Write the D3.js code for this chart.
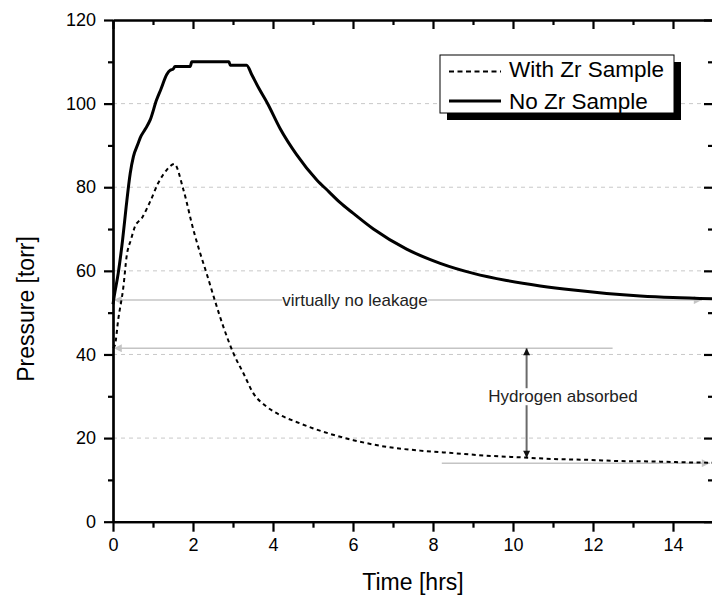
<!DOCTYPE html>
<html>
<head>
<meta charset="utf-8">
<script src="https://cdn.jsdelivr.net/npm/d3@7"></script>
<style>
  body { margin: 0; background: #fff; }
  svg { display: block; font-family: Arial, "Liberation Sans", sans-serif; }
  .axis path, .axis line { stroke: #000; stroke-width: 2.2; }
  .axis text { font-size: 18px; fill: #000; font-family: Arial, "Liberation Sans", sans-serif; }
</style>
</head>
<body>
<div id="chart"></div>
<script>
// Data
const timeNoZr = [0, 0.03, 0.13, 0.24, 0.33, 0.43, 0.51, 0.63, 0.68, 0.8, 0.93, 1.09, 1.2, 1.34, 1.43, 1.5, 1.55,
    1.93, 1.97, 2.9, 2.93, 3.34, 3.47, 3.65, 3.86, 4.18, 4.59, 5.09, 5.4, 5.68, 6.0, 6.51, 7.34, 8.18, 9.01, 9.84,
    10.68, 11.51, 12.34, 13.18, 14.0, 15.0];
const pressureNoZr = [52, 53.9, 59.4, 67.4, 75.4, 83.3, 87.3, 90.5, 91.8, 93.8, 96.1, 100.9, 103.5, 106.9, 108, 108.2, 108.9,
    108.9, 110, 110, 109.2, 109.2, 106.9, 103.6, 100.1, 94.0, 87.8, 81.8, 78.9, 76.3, 73.8, 70.0, 65.2, 61.8, 59.4, 57.7,
    56.4, 55.4, 54.6, 54, 53.6, 53.3];

const timeWithZr = [0, 0.05, 0.13, 0.26, 0.34, 0.45, 0.55, 0.72, 0.93, 1.13, 1.34, 1.5, 1.53, 1.76, 2.01, 2.18, 2.34,
    2.55, 2.76, 3.01, 3.26, 3.51, 3.84, 4.18, 4.6, 5.01, 5.5, 6.01, 6.84, 7.68, 8.51, 9.34, 10.18, 11.01, 11.84,
    12.68, 13.51, 14.34, 15];
const pressureWithZr = [41.5, 42.3, 48.3, 56.2, 63.4, 67.5, 70.6, 72.6, 76.6, 81, 84.1, 85.5, 85.6, 79.4, 69.8, 64.2, 59.4,
    52.8, 46.6, 40.3, 35.5, 30.7, 27.5, 25.5, 23.8, 22.3, 20.8, 19.5, 17.9, 17, 16.4, 15.8, 15.4, 15, 14.8,
    14.5, 14.4, 14.2, 14.1];

const xMajorTicks = [0, 2, 4, 6, 8, 10, 12, 14];
const xMinorTicks = [1, 3, 5, 7, 9, 11, 13, 15];
const yMajorTicks = [0, 20, 40, 60, 80, 100, 120];
const yMinorTicks = [10, 30, 50, 70, 90, 110];
const gridValues = [20, 40, 60, 80, 100];

const seriesNames = ["With Zr Sample", "No Zr Sample"];

// Annotation lines: pressure level, start time, end time, arrow ends
const refLevels = [53, 41.5, 14];
const refStart = [0.02, 0.02, 8.22];
const refEnd = [14.72, 12.49, 14.92];
const refArrows = ["both", "start", "end"];
const absorbedTime = 10.34;
const absorbedRange = [41.5, 15.3];
const noteTexts = ["virtually no leakage", "Hydrogen absorbed"];
const noteTimes = [6.05, 11.25];
const notePressures = [53, 30];

// Set up the svg
let width = 712, height = 597;
let margin = {left: 113, top: 20, right: -1, bottom: 75.3};

let svg = d3.select('#chart')
    .append('svg')
    .attr('width', width)
    .attr('height', height);

let x = d3.scaleLinear()
    .domain([0, 15])
    .range([margin.left, width - margin.right]);

let y = d3.scaleLinear()
    .domain([0, 120])
    .range([height - margin.bottom, margin.top]);

// Arrow markers
let defs = svg.append('defs');
defs.append('marker')
    .attr('id', 'greyArrow')
    .attr('viewBox', '0 0 10 10')
    .attr('refX', 10).attr('refY', 5)
    .attr('markerUnits', 'userSpaceOnUse')
    .attr('markerWidth', 10).attr('markerHeight', 8)
    .attr('orient', 'auto-start-reverse')
    .append('path')
    .attr('d', 'M0,0 L10,5 L0,10 Z')
    .attr('fill', '#c4c4c4');
defs.append('marker')
    .attr('id', 'darkArrow')
    .attr('viewBox', '0 0 10 10')
    .attr('refX', 10).attr('refY', 5)
    .attr('markerUnits', 'userSpaceOnUse')
    .attr('markerWidth', 9).attr('markerHeight', 7)
    .attr('orient', 'auto-start-reverse')
    .append('path')
    .attr('d', 'M0,0 L10,5 L0,10 Z')
    .attr('fill', '#111');

// Grid lines
svg.append('g')
    .selectAll('line')
    .data(gridValues)
    .join('line')
    .attr('x1', x(0))
    .attr('x2', x(15))
    .attr('y1', d => y(d))
    .attr('y2', d => y(d))
    .attr('stroke', '#c8c8c8')
    .attr('stroke-width', 1)
    .attr('stroke-dasharray', '4,4');

// Annotation reference lines
refLevels.forEach(function(level, i) {
    let line = svg.append('line')
        .attr('x1', x(refStart[i]))
        .attr('x2', x(refEnd[i]))
        .attr('y1', y(level))
        .attr('y2', y(level))
        .attr('stroke', '#c4c4c4')
        .attr('stroke-width', 1.5);
    if (refArrows[i] === 'both' || refArrows[i] === 'start') line.attr('marker-start', 'url(#greyArrow)');
    if (refArrows[i] === 'both' || refArrows[i] === 'end') line.attr('marker-end', 'url(#greyArrow)');
});

// Vertical arrow for absorbed hydrogen
svg.append('line')
    .attr('x1', x(absorbedTime))
    .attr('x2', x(absorbedTime))
    .attr('y1', y(absorbedRange[0]))
    .attr('y2', y(absorbedRange[1]))
    .attr('stroke', '#6a6a6a')
    .attr('stroke-width', 2)
    .attr('marker-start', 'url(#darkArrow)')
    .attr('marker-end', 'url(#darkArrow)');

// Curves
let lineGen = d3.line()
    .x(d => x(d[0]))
    .y(d => y(d[1]))
    .curve(d3.curveMonotoneX);

svg.append('path')
    .datum(d3.zip(timeWithZr, pressureWithZr))
    .attr('d', lineGen)
    .attr('fill', 'none')
    .attr('stroke', '#000')
    .attr('stroke-width', 2)
    .attr('stroke-dasharray', '4,3.5');

svg.append('path')
    .datum(d3.zip(timeNoZr, pressureNoZr))
    .attr('d', lineGen)
    .attr('fill', 'none')
    .attr('stroke', '#000')
    .attr('stroke-width', 3)
    .attr('stroke-linejoin', 'round');

// Notes with white background
noteTexts.forEach(function(t, i) {
    let g = svg.append('g');
    let txt = g.append('text')
        .attr('x', x(noteTimes[i]))
        .attr('y', y(notePressures[i]))
        .attr('dy', '0.35em')
        .attr('text-anchor', 'middle')
        .attr('font-size', '17px')
        .attr('fill', '#222')
        .text(t);
    let bb = txt.node().getBBox();
    g.insert('rect', 'text')
        .attr('x', bb.x)
        .attr('y', bb.y + 1)
        .attr('width', bb.width)
        .attr('height', bb.height - 2)
        .attr('fill', '#fff');
});

// Axes
svg.append('g')
    .attr('class', 'axis')
    .attr('transform', `translate(0,${y(0)})`)
    .call(d3.axisBottom(x).tickValues(xMajorTicks).tickSize(10).tickSizeOuter(0).tickPadding(7));
svg.append('g')
    .attr('class', 'axis')
    .attr('transform', `translate(0,${y(0)})`)
    .call(d3.axisBottom(x).tickValues(xMinorTicks).tickSize(6).tickSizeOuter(0).tickFormat(''));

svg.append('g')
    .attr('class', 'axis')
    .attr('transform', `translate(${x(0)},0)`)
    .call(d3.axisLeft(y).tickValues(yMajorTicks).tickSize(9).tickSizeOuter(0).tickPadding(8));
svg.append('g')
    .attr('class', 'axis')
    .attr('transform', `translate(${x(0)},0)`)
    .call(d3.axisLeft(y).tickValues(yMinorTicks).tickSize(5).tickSizeOuter(0).tickFormat(''));

svg.append('g')
    .attr('class', 'axis')
    .attr('transform', `translate(0,${y(120)})`)
    .call(d3.axisTop(x).tickValues(xMajorTicks).tickSize(-9).tickSizeOuter(0).tickFormat(''));
svg.append('g')
    .attr('class', 'axis')
    .attr('transform', `translate(0,${y(120)})`)
    .call(d3.axisTop(x).tickValues(xMinorTicks).tickSize(-5).tickSizeOuter(0).tickFormat(''));

svg.append('g')
    .attr('class', 'axis')
    .attr('transform', `translate(${x(15)},0)`)
    .call(d3.axisRight(y).tickValues(yMajorTicks).tickSize(-9).tickSizeOuter(0).tickFormat(''));
svg.append('g')
    .attr('class', 'axis')
    .attr('transform', `translate(${x(15)},0)`)
    .call(d3.axisRight(y).tickValues(yMinorTicks).tickSize(-5).tickSizeOuter(0).tickFormat(''));

// Axis titles
svg.append('text')
    .attr('x', (x(0) + x(15)) / 2)
    .attr('y', 590)
    .attr('text-anchor', 'middle')
    .attr('font-size', '23px')
    .text('Time [hrs]');

svg.append('text')
    .attr('transform', `translate(34,${309}) rotate(-90)`)
    .attr('text-anchor', 'middle')
    .attr('font-size', '23px')
    .text('Pressure [torr]');

// Legend with drop shadow
let legend = svg.append('g').attr('transform', 'translate(440,55)');
legend.append('rect')
    .attr('x', 7).attr('y', 7)
    .attr('width', 234).attr('height', 58)
    .attr('fill', '#000');
legend.append('rect')
    .attr('width', 234).attr('height', 58)
    .attr('fill', '#fff')
    .attr('stroke', '#000')
    .attr('stroke-width', 1);

legend.selectAll('line.key')
    .data(seriesNames)
    .join('line')
    .attr('class', 'key')
    .attr('x1', 9).attr('x2', 61)
    .attr('y1', (d, i) => 16.5 + i * 29.5)
    .attr('y2', (d, i) => 16.5 + i * 29.5)
    .attr('stroke', '#000')
    .attr('stroke-width', (d, i) => i === 0 ? 2 : 3)
    .attr('stroke-dasharray', (d, i) => i === 0 ? '5,3.5' : null);

legend.selectAll('text')
    .data(seriesNames)
    .join('text')
    .attr('x', 69)
    .attr('y', (d, i) => 22 + i * 31.5)
    .attr('font-size', '22.5px')
    .text(d => d);
</script>
</body>
</html>
